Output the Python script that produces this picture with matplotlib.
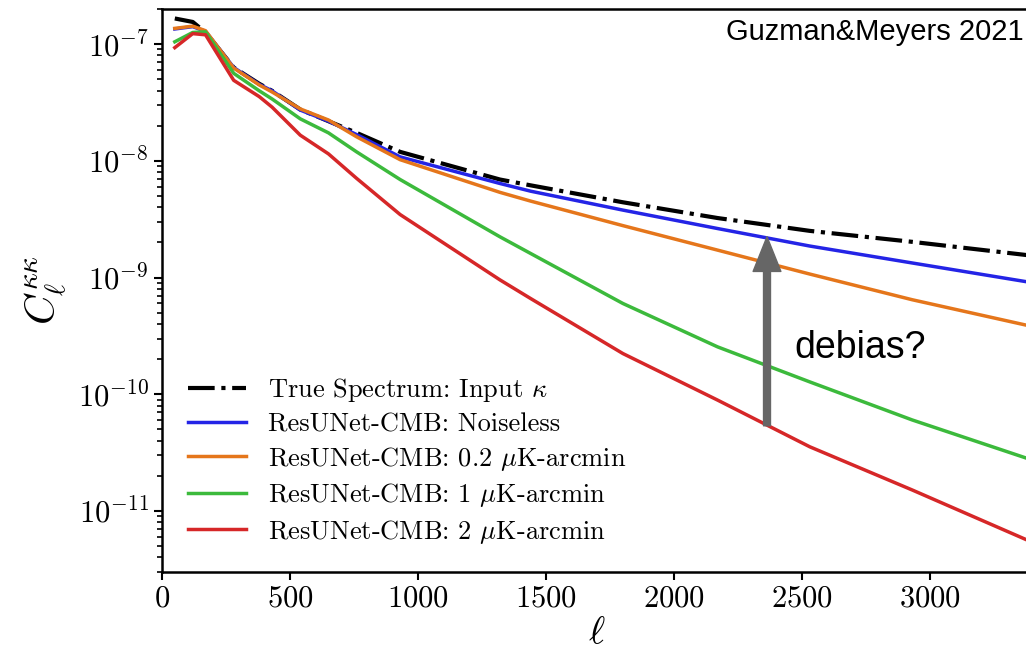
import numpy as np
import matplotlib.pyplot as plt
from matplotlib.ticker import NullFormatter

plt.rcParams['font.family'] = 'cmr10'
plt.rcParams['mathtext.fontset'] = 'cm'
plt.rcParams['axes.formatter.use_mathtext'] = True

ell = np.array([50, 120, 170, 280, 380, 430, 540, 650, 760, 930, 1320, 1440,
                1800, 2170, 2530, 2930, 3380])

# log10(C_ell) for each curve
true_log = [-6.78, -6.81, -6.90, -7.20, -7.34, -7.40, -7.56, -7.66, -7.76, -7.923,
            -8.16, -8.21, -8.355, -8.49, -8.60, -8.694, -8.808]
noiseless_log = [-6.87, -6.85, -6.89, -7.20, -7.345, -7.40, -7.565, -7.66, -7.775, -7.966,
                 -8.194, -8.26, -8.422, -8.58, -8.73, -8.875, -9.037]
n02_log = [-6.865, -6.846, -6.885, -7.205, -7.35, -7.41, -7.555, -7.65, -7.794, -7.99,
           -8.27, -8.345, -8.555, -8.765, -8.97, -9.19, -9.41]
n1_log = [-6.98, -6.90, -6.895, -7.25, -7.40, -7.47, -7.64, -7.76, -7.923, -8.16,
          -8.651, -8.794, -9.222, -9.594, -9.894, -10.22, -10.55]
n2_log = [-7.03, -6.91, -6.92, -7.31, -7.45, -7.54, -7.78, -7.94, -8.15, -8.46,
          -9.02, -9.18, -9.651, -10.05, -10.45, -10.82, -11.25]

fig = plt.figure(figsize=(10.26, 6.57), dpi=100)
ax = fig.add_axes([162/1026, 1-572/657, (1032-162)/1026, (572-9)/657])

ax.plot(ell, 10**np.array(true_log), color='black', ls='-.', lw=3,
        label=r'True Spectrum: Input $\kappa$')
ax.plot(ell, 10**np.array(noiseless_log), color='#2424e6', lw=2.5,
        label='ResUNet-CMB: Noiseless')
ax.plot(ell, 10**np.array(n02_log), color='#e5761b', lw=2.5,
        label=r'ResUNet-CMB: 0.2 $\mu$K-arcmin')
ax.plot(ell, 10**np.array(n1_log), color='#3cba3c', lw=2.5,
        label=r'ResUNet-CMB: 1 $\mu$K-arcmin')
ax.plot(ell, 10**np.array(n2_log), color='#d62728', lw=2.5,
        label=r'ResUNet-CMB: 2 $\mu$K-arcmin')

ax.set_yscale('log')
ax.set_xlim(0, 3398)
ax.set_ylim(3e-12, 2e-7)
ax.set_xticks([0, 500, 1000, 1500, 2000, 2500, 3000])
ax.yaxis.set_minor_formatter(NullFormatter())
ax.tick_params(labelsize=22, width=1.5, length=6)
ax.tick_params(which='minor', width=1.2, length=3.5)
for s in ax.spines.values():
    s.set_linewidth(1.8)

ax.set_xlabel(r'$\ell$', fontsize=28, labelpad=2)
ax.set_ylabel(r'$C_\ell^{\kappa\kappa}$', fontsize=30, labelpad=6)

ax.legend(loc='lower left', bbox_to_anchor=(0.0, 0.0), frameon=False, fontsize=19,
          handlelength=2.2, handletextpad=0.8, labelspacing=0.32, borderaxespad=0.6)

ax.annotate('', xy=(2363, 10**-8.65), xytext=(2363, 10**-10.27),
            arrowprops=dict(arrowstyle='simple,tail_width=0.25,head_width=1.0,head_length=1.25',
                            mutation_scale=20, color='#666666', shrinkA=0, shrinkB=0))
ax.text(2470, 10**-9.6, 'debias?', fontsize=27, family='Liberation Sans', va='center')

fig.text(0.998, 0.952, 'Guzman&Meyers 2021', fontsize=21, family='Liberation Sans',
         ha='right', va='center')

plt.savefig('out.png', dpi=100)
